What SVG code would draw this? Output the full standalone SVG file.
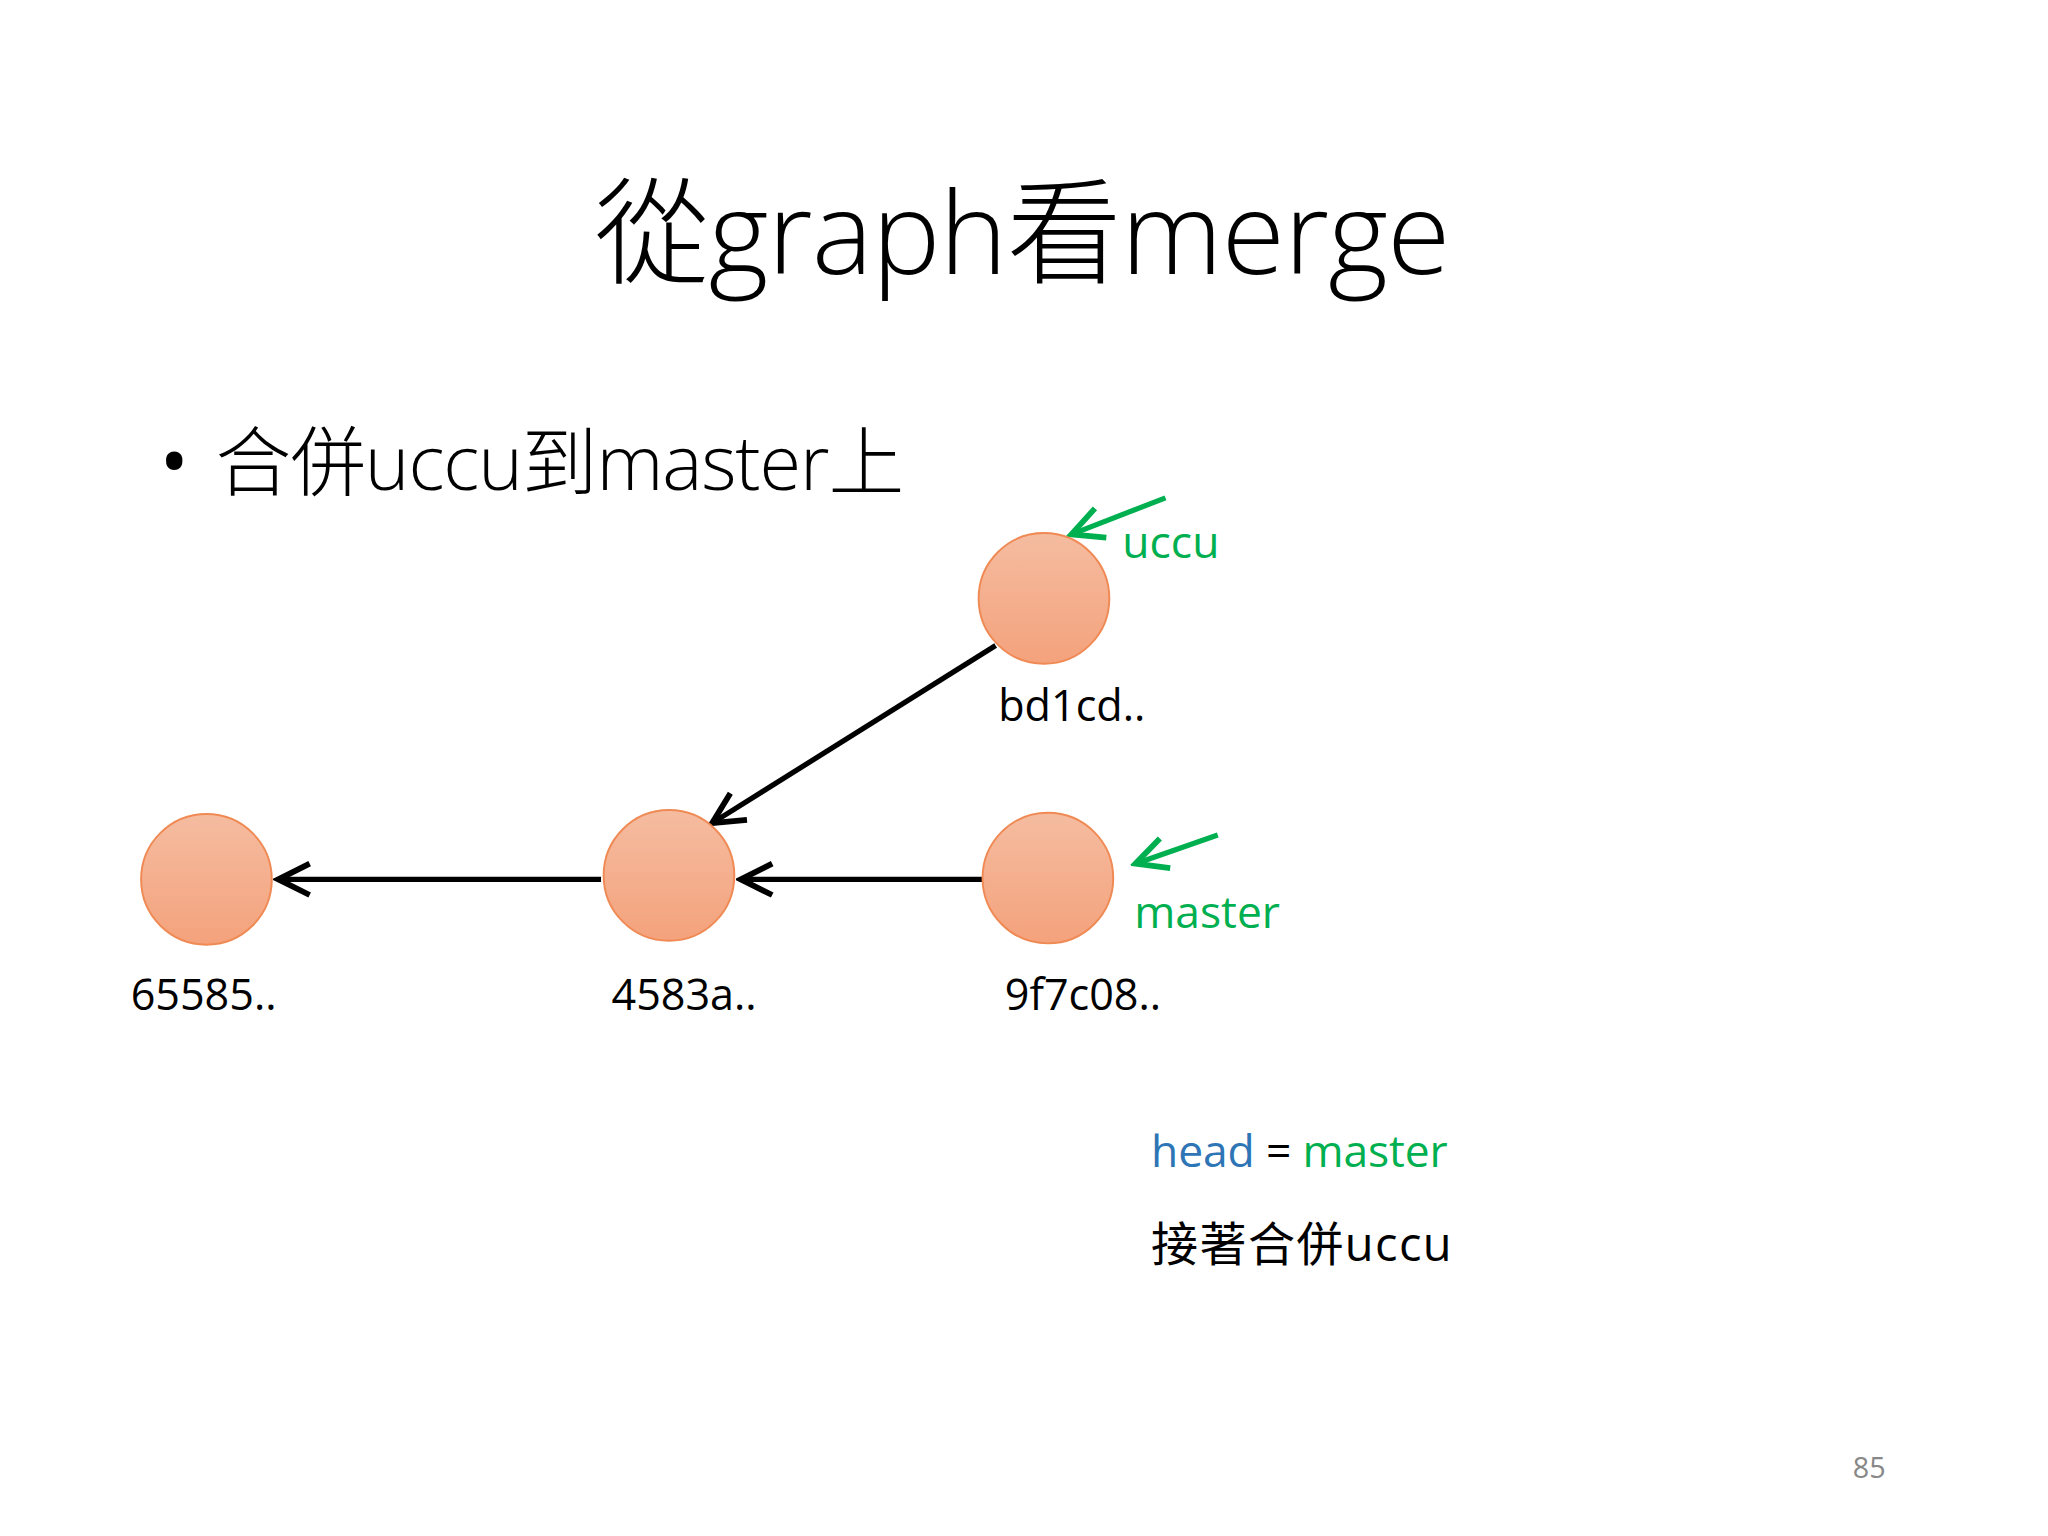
<svg xmlns="http://www.w3.org/2000/svg" width="2048" height="1536" viewBox="0 0 2048 1536">
<defs>
<style>
text{font-family:"Open Sans","Noto Sans CJK TC",sans-serif;}
.n{fill:url(#g);stroke:#f08a55;stroke-width:1.5}
.c{stroke:#000;stroke-width:4;fill:none}
.gr{stroke:#00b050;stroke-width:4;fill:none}
.lb{font-size:33px;fill:#000}
.gt{fill:#00b050}
</style>
<linearGradient id="g" x1="0" y1="0" x2="0" y2="1"><stop offset="0" stop-color="#f5bca0"/><stop offset="1" stop-color="#f4a27c"/></linearGradient>
<marker id="a" markerWidth="8" markerHeight="8" refX="7" refY="4" orient="auto" markerUnits="strokeWidth"><path d="M1,1 L7,4 L1,7" fill="none" stroke="#000" stroke-width="1.1"/></marker>
<marker id="ag" markerWidth="8" markerHeight="8" refX="7" refY="4" orient="auto" markerUnits="strokeWidth"><path d="M1,1 L7,4 L1,7" fill="none" stroke="#00b050" stroke-width="1.1"/></marker>
</defs>
<rect width="2048" height="1536" fill="#fff"/>
<g transform="scale(1.3066)">
<text x="455" y="210" font-size="88" font-weight="300" textLength="655">從graph看merge</text>
<text x="122" y="375" font-size="60">•</text>
<text x="165" y="375" font-size="58" font-weight="300" textLength="527">合併uccu到master上</text>
<g id="connectors">
<line class="c" x1="762" y1="494" x2="545" y2="630" marker-end="url(#a)"/>
<line class="c" x1="460" y1="673" x2="213" y2="673" marker-end="url(#a)"/>
<line class="c" x1="752" y1="673" x2="567" y2="673" marker-end="url(#a)"/>
<line class="gr" x1="892" y1="381" x2="820" y2="409" marker-end="url(#ag)"/>
<line class="gr" x1="932" y1="639" x2="869" y2="661" marker-end="url(#ag)"/>
</g>
<g id="bd1cd"><circle class="n" cx="799" cy="458" r="50"/><text class="lb" x="764" y="552">bd1cd..</text></g>
<g id="n65585"><circle class="n" cx="158" cy="673" r="50"/><text class="lb" x="100" y="773">65585..</text></g>
<g id="n4583a"><circle class="n" cx="512" cy="670" r="50"/><text class="lb" x="468" y="773">4583a..</text></g>
<g id="n9f7c08"><circle class="n" cx="802" cy="672" r="50"/><text class="lb" x="769" y="773">9f7c08..</text></g>
<text class="gt" x="859" y="427" font-size="34">uccu</text>
<text class="gt" x="868" y="710" font-size="34">master</text>
<text x="881" y="893" font-size="34" textLength="227"><tspan fill="#2e75b6">head</tspan><tspan fill="#000"> = </tspan><tspan fill="#00b050">master</tspan></text>
<text x="881" y="965" font-size="36" fill="#000" textLength="230">接著合併uccu</text>
<text x="1418" y="1131" font-size="22" fill="#888">85</text>
</g>
</svg>
